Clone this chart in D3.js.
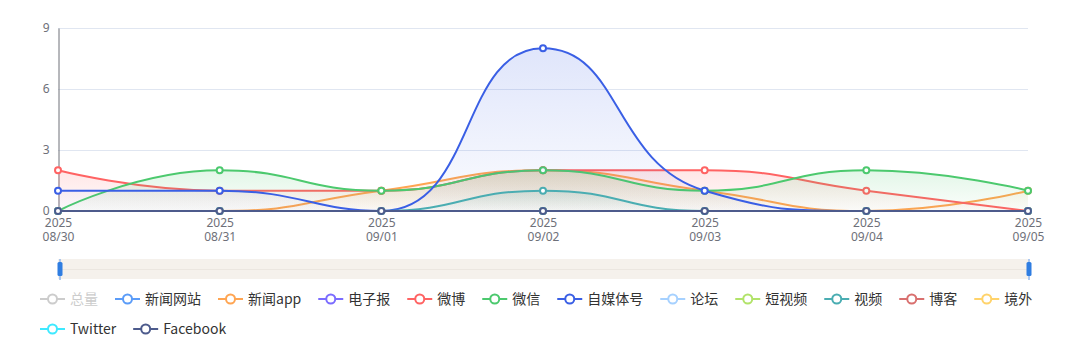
<!DOCTYPE html>
<html>
<head>
<meta charset="utf-8">
<script src="https://cdn.jsdelivr.net/npm/d3@7/dist/d3.min.js"></script>
<style>
  html, body { margin: 0; padding: 0; background: #fff; }
  svg { display: block; font-family: "Microsoft YaHei", "Noto Sans CJK SC", "Noto Sans", sans-serif; }
</style>
</head>
<body>
<svg id="chart" width="1071" height="358"></svg>
<script>
// ---- data ----
const dates = ["2025\n08/30", "2025\n08/31", "2025\n09/01", "2025\n09/02", "2025\n09/03", "2025\n09/04", "2025\n09/05"];
const yTicks = [0, 3, 6, 9];
const seriesNames = ["总量", "新闻网站", "新闻app", "电子报", "微博", "微信", "自媒体号", "论坛", "短视频", "视频", "博客", "境外", "Twitter", "Facebook"];
const seriesColors = ["#cccccc", "#5b9cf8", "#ffa552", "#7b6cff", "#ff6363", "#4cc96e", "#3a5fe5", "#a6d1ff", "#b2e36a", "#4aadb2", "#d9706f", "#ffd36b", "#3ee9ff", "#4d5b8c"];
const disabled = ["总量"];
const vNewsSite  = [0, 0, 0, 0, 0, 0, 0];
const vNewsApp   = [0, 0, 1, 2, 1, 0, 1];
const vEpaper    = [0, 0, 0, 0, 0, 0, 0];
const vWeibo     = [2, 1, 1, 2, 2, 1, 0];
const vWechat    = [0, 2, 1, 2, 1, 2, 1];
const vSelfMedia = [1, 1, 0, 8, 1, 0, 0];
const vForum     = [0, 0, 0, 0, 0, 0, 0];
const vShortVid  = [0, 0, 0, 0, 0, 0, 0];
const vVideo     = [0, 0, 0, 1, 0, 0, 0];
const vBlog      = [0, 0, 0, 0, 0, 0, 0];
const vOverseas  = [0, 0, 0, 0, 0, 0, 0];
const vTwitter   = [0, 0, 0, 0, 0, 0, 0];
const vFacebook  = [0, 0, 0, 0, 0, 0, 0];
const seriesValues = [null, vNewsSite, vNewsApp, vEpaper, vWeibo, vWechat, vSelfMedia, vForum, vShortVid, vVideo, vBlog, vOverseas, vTwitter, vFacebook];

// ---- layout ----
const svg = d3.select("#chart");
const pLeft = 58, pRight = 1028, pTop = 28, pBottom = 211;
const x = d3.scalePoint().domain(d3.range(dates.length)).range([pLeft, pRight]);
const y = d3.scaleLinear().domain([0, 9]).range([pBottom, pTop]);

// smooth path in the style of a "smooth: true" line (bezier with clamped control points)
function smoothPath(pts, ctx, smooth) {
  let prevX, prevY, cpx0, cpy0, cpx1, cpy1;
  const n = pts.length;
  for (let i = 0; i < n; i++) {
    const [px, py] = pts[i];
    if (i === 0) { ctx.moveTo(px, py); cpx0 = px; cpy0 = py; }
    else {
      let nextCpx0 = px, nextCpy0 = py;
      if (i === n - 1) { cpx1 = px; cpy1 = py; }
      else {
        const [nx, ny] = pts[i + 1];
        let vx = nx - prevX, vy = ny - prevY;
        const dx0 = px - prevX, dx1 = nx - px, dy0 = py - prevY, dy1 = ny - py;
        const lenPrev = Math.sqrt(dx0 * dx0 + dy0 * dy0);
        const lenNext = Math.sqrt(dx1 * dx1 + dy1 * dy1);
        const ratio = lenNext / (lenNext + lenPrev);
        nextCpx0 = px + vx * smooth * ratio;
        nextCpy0 = py + vy * smooth * ratio;
        nextCpx0 = Math.max(Math.min(nextCpx0, Math.max(nx, px)), Math.min(nx, px));
        nextCpy0 = Math.max(Math.min(nextCpy0, Math.max(ny, py)), Math.min(ny, py));
        vx = nextCpx0 - px; vy = nextCpy0 - py;
        cpx1 = px - vx * lenPrev / lenNext;
        cpy1 = py - vy * lenPrev / lenNext;
        cpx1 = Math.max(Math.min(cpx1, Math.max(prevX, px)), Math.min(prevX, px));
        cpy1 = Math.max(Math.min(cpy1, Math.max(prevY, py)), Math.min(prevY, py));
        vx = px - cpx1; vy = py - cpy1;
        nextCpx0 = px + vx * lenNext / lenPrev;
        nextCpy0 = py + vy * lenNext / lenPrev;
      }
      ctx.bezierCurveTo(cpx0, cpy0, cpx1, cpy1, px, py);
      cpx0 = nextCpx0; cpy0 = nextCpy0;
    }
    prevX = px; prevY = py;
  }
  return ctx;
}
function linePath(vals) {
  const pts = vals.map((v, i) => [x(i), y(v)]);
  return smoothPath(pts, d3.path(), 0.5).toString();
}
function areaPath(vals) {
  const pts = vals.map((v, i) => [x(i), y(v)]);
  const p = smoothPath(pts, d3.path(), 0.5);
  p.lineTo(x(vals.length - 1), y(0));
  p.lineTo(x(0), y(0));
  p.closePath();
  return p.toString();
}

// grid
svg.append("g").selectAll("line").data(yTicks.filter(d => d !== 0)).join("line")
  .attr("x1", pLeft).attr("x2", pRight)
  .attr("y1", d => y(d) + 0.5).attr("y2", d => y(d) + 0.5)
  .attr("stroke", "#e0e6f1").attr("stroke-width", 1);

// y axis
const yAxis = d3.axisLeft(y).tickValues(yTicks).tickSize(0).tickPadding(9);
const gy = svg.append("g").attr("transform", `translate(${pLeft + 0.5},0)`).call(yAxis);
gy.select(".domain").attr("stroke", "#6e7079");
gy.selectAll("text").attr("fill", "#6e7079").style("font-size", "12px")
  .style("font-family", "'Microsoft YaHei','Noto Sans',sans-serif");

// x axis
const xAxis = d3.axisBottom(x).tickSize(0).tickFormat(() => "");
const gx = svg.append("g").attr("transform", `translate(0,${pBottom})`).call(xAxis);
gx.select(".domain").attr("stroke", "#6e7079");
gx.selectAll(".tick").each(function(d) {
  const tick = d3.select(this);
  tick.select("text").remove();
  dates[d].split("\n").forEach((s, i) => {
    tick.append("text").attr("x", 0).attr("y", 16 + i * 14).attr("text-anchor", "middle")
      .attr("fill", "#6e7079").style("font-size", "12px")
      .style("font-family", "'Microsoft YaHei','Noto Sans',sans-serif").text(s);
  });
});

// series
const defs = svg.append("defs");
seriesNames.forEach((name, si) => {
  const vals = seriesValues[si];
  if (!vals || disabled.includes(name)) return;
  const col = seriesColors[si];
  const g = svg.append("g");
  if (d3.max(vals) > 0) {
    const gid = "grad" + si;
    const lg = defs.append("linearGradient").attr("id", gid)
      .attr("x1", 0).attr("y1", 0).attr("x2", 0).attr("y2", 1);
    lg.append("stop").attr("offset", "0%").attr("stop-color", col).attr("stop-opacity", 0.16);
    lg.append("stop").attr("offset", "100%").attr("stop-color", col).attr("stop-opacity", 0.02);
    g.append("path").attr("d", areaPath(vals)).attr("fill", `url(#${gid})`);
  }
  g.append("path").attr("d", linePath(vals))
    .attr("fill", "none").attr("stroke", col).attr("stroke-width", 2);
  g.selectAll("circle").data(vals).join("circle")
    .attr("cx", (d, i) => x(i)).attr("cy", d => y(d)).attr("r", 3)
    .attr("fill", "#fff").attr("stroke", col).attr("stroke-width", 2);
});

// data zoom slider
const sz = svg.append("g");
sz.append("rect").attr("x", pLeft).attr("y", 259).attr("width", pRight - pLeft).attr("height", 20)
  .attr("fill", "#f5f1ec");
sz.append("line").attr("x1", pLeft).attr("x2", pRight).attr("y1", 269.5).attr("y2", 269.5)
  .attr("stroke", "#ebe6e0").attr("stroke-width", 1);
[pLeft + 2, pRight + 1].forEach(hx => {
  sz.append("line").attr("x1", hx).attr("x2", hx).attr("y1", 259).attr("y2", 280)
    .attr("stroke", "#8fb6ee").attr("stroke-width", 1.5);
  sz.append("rect").attr("x", hx - 2.5).attr("y", 262).attr("width", 5).attr("height", 14)
    .attr("rx", 1.5).attr("fill", "#2f7de1");
});

// legend
const lgG = svg.append("g");
let lx = 40, ly = 299;
const maxX = 1040;
seriesNames.forEach((name, si) => {
  const col = disabled.includes(name) ? "#cccccc" : seriesColors[si];
  const it = lgG.append("g");
  const txt = it.append("text").attr("x", 30).attr("y", 0).attr("dy", "0.35em")
    .attr("fill", disabled.includes(name) ? "#cccccc" : "#333")
    .style("font-size", "14px").text(name);
  const w = 30 + txt.node().getComputedTextLength();
  if (lx + w > maxX) { lx = 40; ly += 30; }
  it.attr("transform", `translate(${lx},${ly})`);
  it.append("line").attr("x1", 0).attr("x2", 25).attr("y1", 0).attr("y2", 0)
    .attr("stroke", col).attr("stroke-width", 2);
  it.append("circle").attr("cx", 12.5).attr("cy", 0).attr("r", 4.5)
    .attr("fill", "#fff").attr("stroke", col).attr("stroke-width", 2);
  lx += w + 17;
});
</script>
</body>
</html>
